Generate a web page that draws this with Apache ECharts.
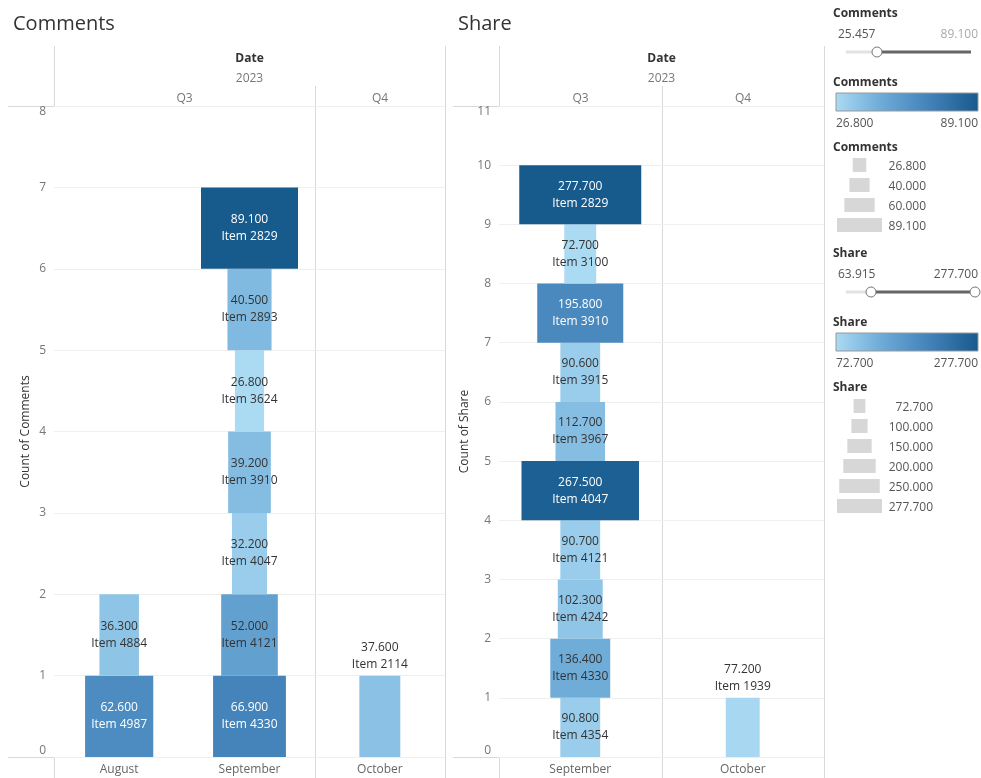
<!DOCTYPE html>
<html>
<head>
<meta charset="utf-8">
<script src="https://cdn.jsdelivr.net/npm/echarts@6/dist/echarts.min.js"></script>
<style>
html,body{margin:0;padding:0;background:#fff;}
#chart{width:981px;height:778px;}
</style>
</head>
<body>
<div id="chart"></div>
<script>
// ---------------- DATA ----------------
const commentsCategories = ['August', 'September', 'October'];
const commentsAugust = [62.6, 36.3];
const commentsAugustItems = ['Item 4987', 'Item 4884'];
const commentsSeptember = [66.9, 52.0, 32.2, 39.2, 26.8, 40.5, 89.1];
const commentsSeptemberItems = ['Item 4330', 'Item 4121', 'Item 4047', 'Item 3910', 'Item 3624', 'Item 2893', 'Item 2829'];
const commentsOctober = [37.6];
const commentsOctoberItems = ['Item 2114'];

const shareCategories = ['September', 'October'];
const shareSeptember = [90.8, 136.4, 102.3, 90.7, 267.5, 112.7, 90.6, 195.8, 72.7, 277.7];
const shareSeptemberItems = ['Item 4354', 'Item 4330', 'Item 4242', 'Item 4121', 'Item 4047', 'Item 3967', 'Item 3915', 'Item 3910', 'Item 3100', 'Item 2829'];
const shareOctober = [77.2];
const shareOctoberItems = ['Item 1939'];

const commentsAxisMax = 8;
const shareAxisMax = 11;
const commentsFilterRange = [25.457, 89.100];
const shareFilterRange = [63.915, 277.700];
const commentsSizeLegend = [26.8, 40, 60, 89.1];
const shareSizeLegend = [72.7, 100, 150, 200, 250, 277.7];

// ---------------- STYLE ----------------
const FONT = '"Open Sans", "DejaVu Sans", sans-serif';
const palette = ['#abdaf3', '#6ba9d6', '#4181b8', '#175a8c'];
const lineColor = '#d9d9d9';
const TY = 2; // vertical text nudge for graphic text

function buildData(stacks, items) {
  const out = [];
  stacks.forEach((vals, ci) => {
    vals.forEach((v, j) => {
      out.push({ value: [ci, j, v], item: items[ci][j], single: vals.length === 1 });
    });
  });
  return out;
}
const commentsData = buildData([commentsAugust, commentsSeptember, commentsOctober],
  [commentsAugustItems, commentsSeptemberItems, commentsOctoberItems]);
const shareData = buildData([shareSeptember, shareOctober], [shareSeptemberItems, shareOctoberItems]);

const allComments = commentsAugust.concat(commentsSeptember, commentsOctober);
const allShare = shareSeptember.concat(shareOctober);
const cMin = Math.min(...allComments), cMax = Math.max(...allComments);
const sMin = Math.min(...allShare), sMax = Math.max(...allShare);

function makeRender(data, k, tMin, tMax) {
  return function (params, api) {
    const d = data[params.dataIndex];
    const c = d.value[0], b = d.value[1], v = d.value[2];
    const p0 = api.coord([c, b]);
    const p1 = api.coord([c, b + 1]);
    const w = v * k;
    const t = (v - tMin) / (tMax - tMin);
    return {
      type: 'rect',
      shape: { x: p0[0] - w / 2, y: p1[1], width: w, height: p0[1] - p1[1] },
      style: { fill: api.visual('color') },
      textContent: {
        style: {
          text: v.toFixed(3) + '\n' + d.item,
          fill: t > 0.5 ? '#ffffff' : '#333333',
          fontFamily: FONT, fontSize: 12, lineHeight: 17, align: 'center'
        }
      },
      textConfig: { position: d.single ? 'top' : 'inside', distance: 3 }
    };
  };
}

const G = {
  c: { left: 54, right: 445, top: 106, bottom: 757 },
  s: { left: 499, right: 824, top: 106, bottom: 757 }
};

function line(x1, y1, x2, y2, color) {
  return { type: 'line', silent: true, shape: { x1, y1, x2, y2 }, style: { stroke: color || lineColor, lineWidth: 1 } };
}
function text(x, y, s, opts) {
  return { type: 'text', silent: true, x, y: y + TY, style: Object.assign({ text: s, fontFamily: FONT, fontSize: 12, fill: '#666', align: 'center', verticalAlign: 'middle' }, opts || {}) };
}

const graphics = [];
// titles
graphics.push(text(13, 22, 'Comments', { fontSize: 20, fill: '#333', align: 'left' }));
graphics.push(text(458, 22, 'Share', { fontSize: 20, fill: '#333', align: 'left' }));
// panel frames
function panelFrame(P, leftLineStart, dividerX) {
  graphics.push(line(P.left + 0.5, 46, P.left + 0.5, P.top));
  graphics.push(line(P.left + 0.5, P.bottom, P.left + 0.5, 778));
  graphics.push(line(dividerX + 0.5, 86, dividerX + 0.5, 778));
  graphics.push(line(P.right + 0.5, 46, P.right + 0.5, 778));
  graphics.push(line(leftLineStart, P.top + 0.5, P.right, P.top + 0.5));
  graphics.push(line(leftLineStart, P.bottom + 0.5, P.right, P.bottom + 0.5));
  const cx = (P.left + P.right) / 2;
  graphics.push(text(cx, 57, 'Date', { fontWeight: 'bold', fill: '#333' }));
  graphics.push(text(cx, 77, '2023', { fill: '#777' }));
  graphics.push(text((P.left + dividerX) / 2, 97, 'Q3', { fill: '#777' }));
  graphics.push(text((dividerX + P.right) / 2, 97, 'Q4', { fill: '#777' }));
}
const cDiv = G.c.left + (G.c.right - G.c.left) * 2 / 3;
const sDiv = G.s.left + (G.s.right - G.s.left) / 2;
panelFrame(G.c, 8, Math.round(cDiv));
panelFrame(G.s, 453, Math.round(sDiv));

// legends
function slider(y, lo, hi, loX, hiX, hiMuted) {
  graphics.push(text(838, y - 19, lo.toFixed(3), { align: 'left', fill: '#555' }));
  graphics.push(text(978, y - 19, hi.toFixed(3), { align: 'right', fill: hiMuted ? '#aaa' : '#555' }));
  graphics.push({ type: 'line', silent: true, shape: { x1: 846, y1: y, x2: loX, y2: y }, style: { stroke: '#e2e2e2', lineWidth: 3 } });
  graphics.push({ type: 'line', silent: true, shape: { x1: loX, y1: y, x2: hiX, y2: y }, style: { stroke: '#666', lineWidth: 3 } });
  graphics.push({ type: 'circle', silent: true, shape: { cx: loX, cy: y, r: 5 }, style: { fill: '#fff', stroke: '#777', lineWidth: 1 } });
  if (!hiMuted) graphics.push({ type: 'circle', silent: true, shape: { cx: hiX, cy: y, r: 5 }, style: { fill: '#fff', stroke: '#777', lineWidth: 1 } });
}
function gradient(y, lo, hi) {
  graphics.push({
    type: 'rect', silent: true, shape: { x: 836, y: y, width: 142, height: 18 },
    style: {
      stroke: '#999', lineWidth: 1,
      fill: new echarts.graphic.LinearGradient(0, 0, 1, 0, palette.map((c, i) => ({ offset: i / (palette.length - 1), color: c })))
    }
  });
  graphics.push(text(836, y + 29, lo.toFixed(3), { align: 'left', fill: '#555' }));
  graphics.push(text(978, y + 29, hi.toFixed(3), { align: 'right', fill: '#555' }));
}
function sizeLegend(y0, vals, k, labelRight) {
  vals.forEach((v, i) => {
    const y = y0 + i * 20;
    const w = v * k;
    graphics.push({ type: 'rect', silent: true, shape: { x: 859.5 - w / 2, y: y - 7, width: w, height: 14 }, style: { fill: '#d7d7d7' } });
    graphics.push(text(labelRight, y, v.toFixed(3), { align: 'right', fill: '#555' }));
  });
}
function legendTitle(y, s) {
  graphics.push(text(833, y, s, { align: 'left', fontWeight: 'bold', fill: '#333' }));
}
legendTitle(12, 'Comments');
slider(52, commentsFilterRange[0], commentsFilterRange[1], 877, 971, true);
legendTitle(81, 'Comments');
gradient(93, cMin, cMax);
legendTitle(146, 'Comments');
sizeLegend(165, commentsSizeLegend, 45 / cMax, 926);
legendTitle(252, 'Share');
slider(292, shareFilterRange[0], shareFilterRange[1], 871, 975, false);
legendTitle(321, 'Share');
gradient(333, sMin, sMax);
legendTitle(386, 'Share');
sizeLegend(406, shareSizeLegend, 45 / sMax, 933);

function yAxis(gi, max, name, gap) {
  return {
    type: 'value', gridIndex: gi, min: 0, max: max, interval: 1,
    name: name, nameLocation: 'middle', nameGap: gap, nameRotate: 90,
    nameTextStyle: { fontFamily: FONT, fontSize: 12, color: '#333' },
    axisLine: { show: false }, axisTick: { show: false },
    axisLabel: { fontFamily: FONT, fontSize: 12, color: '#777', margin: 8,
      verticalAlignMaxLabel: 'top', verticalAlignMinLabel: 'bottom' },
    splitLine: { lineStyle: { color: '#efefef' } }
  };
}
function xAxis(gi, cats) {
  return {
    type: 'category', gridIndex: gi, data: cats,
    axisLine: { show: false }, axisTick: { show: false },
    axisLabel: { fontFamily: FONT, fontSize: 12, color: '#666', margin: 7 },
    splitLine: { show: false }
  };
}

const chart = echarts.init(document.getElementById('chart'), null, { renderer: 'canvas' });
chart.setOption({
  animation: false,
  backgroundColor: '#fff',
  grid: [
    { left: G.c.left, top: G.c.top, width: G.c.right - G.c.left, height: G.c.bottom - G.c.top },
    { left: G.s.left, top: G.s.top, width: G.s.right - G.s.left, height: G.s.bottom - G.s.top }
  ],
  xAxis: [xAxis(0, commentsCategories), xAxis(1, shareCategories)],
  yAxis: [yAxis(0, commentsAxisMax, 'Count of Comments', 22), yAxis(1, shareAxisMax, 'Count of Share', 28)],
  visualMap: [
    { type: 'continuous', show: false, seriesIndex: 0, dimension: 2, min: cMin, max: cMax, inRange: { color: palette } },
    { type: 'continuous', show: false, seriesIndex: 1, dimension: 2, min: sMin, max: sMax, inRange: { color: palette } }
  ],
  series: [
    { type: 'custom', xAxisIndex: 0, yAxisIndex: 0, data: commentsData, encode: { x: 0, y: 1 },
      renderItem: makeRender(commentsData, 97 / cMax, cMin, cMax) },
    { type: 'custom', xAxisIndex: 1, yAxisIndex: 1, data: shareData, encode: { x: 0, y: 1 },
      renderItem: makeRender(shareData, 122 / sMax, sMin, sMax) }
  ],
  graphic: graphics
});
</script>
</body>
</html>
